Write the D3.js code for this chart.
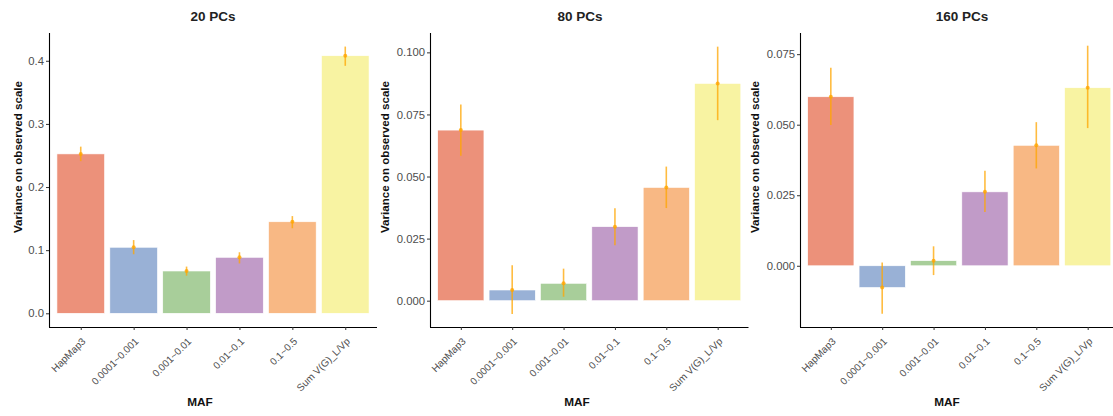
<!DOCTYPE html>
<html>
<head>
<meta charset="utf-8">
<script src="https://cdn.jsdelivr.net/npm/d3@7"></script>
<style>
  body { margin: 0; background: #fff; }
  svg { font-family: "Liberation Sans", Arial, sans-serif; }
</style>
</head>
<body>
<svg id="chart" width="1113" height="416"></svg>
<script>
// categories on the x axis (MAF bins)
var categories = ['HapMap3', '0.0001~0.001', '0.001~0.01', '0.01~0.1', '0.1~0.5', 'Sum V(G)_L/Vp'];
var barColors = ['#ec917a', '#99b1d6', '#a8ce9a', '#c19bc8', '#f8b884', '#f8f3a2'];

var titles = ['20 PCs', '80 PCs', '160 PCs'];

// estimates and error bar ends
var pc20 = [0.2525, 0.1046, 0.0670, 0.0887, 0.1450, 0.4080];
var pc20Lo = [0.2410, 0.0935, 0.0596, 0.0790, 0.1347, 0.3920];
var pc20Hi = [0.2640, 0.1160, 0.0740, 0.0967, 0.1540, 0.4225];

var pc80 = [0.0687, 0.0043, 0.0070, 0.0298, 0.0456, 0.0875];
var pc80Lo = [0.0584, -0.0054, 0.0016, 0.0223, 0.0373, 0.0727];
var pc80Hi = [0.0790, 0.0143, 0.0129, 0.0372, 0.0540, 0.1023];

var pc160 = [0.0599, -0.0077, 0.0018, 0.0262, 0.0427, 0.0631];
var pc160Lo = [0.0499, -0.0170, -0.0033, 0.0191, 0.0345, 0.0488];
var pc160Hi = [0.0702, 0.0012, 0.0069, 0.0337, 0.0509, 0.0780];

var ticks20 = [0, 0.1, 0.2, 0.3, 0.4];
var ticks80 = [0, 0.025, 0.05, 0.075, 0.1];
var ticks160 = [0, 0.025, 0.05, 0.075];

(function() {
  var svg = d3.select('#chart');

  //panel geometry
  var panels = [
    {title: titles[0], vals: pc20, lo: pc20Lo, hi: pc20Hi, ticks: ticks20, fmt: '.1f',
     left: 49, right: 377, dom: [-0.0217, 0.444], ylabX: 18, titleX: 213, mafX: 200},
    {title: titles[1], vals: pc80, lo: pc80Lo, hi: pc80Hi, ticks: ticks80, fmt: '.3f',
     left: 430, right: 748.5, dom: [-0.0106, 0.1078], ylabX: 385, titleX: 580, mafX: 577},
    {title: titles[2], vals: pc160, lo: pc160Lo, hi: pc160Hi, ticks: ticks160, fmt: '.3f',
     left: 800, right: 1118.5, dom: [-0.0217, 0.0825], ylabX: 755, titleX: 962, mafX: 947}
  ];
  var plotTop = 33, plotBottom = 327;

  panels.forEach(function(p) {
    var g = svg.append('g');
    var x = d3.scalePoint().domain(categories).range([p.left, p.right]).padding(0.6);
    var y = d3.scaleLinear().domain(p.dom).range([plotBottom, plotTop]);
    var bw = x.step() * 0.9;

    //bars
    g.selectAll('rect.bar').data(categories).enter().append('rect')
      .attr('class', 'bar')
      .attr('x', function(d) { return x(d) - bw / 2; })
      .attr('width', bw)
      .attr('y', function(d, i) { return Math.min(y(p.vals[i]), y(0)); })
      .attr('height', function(d, i) { return Math.abs(y(p.vals[i]) - y(0)); })
      .attr('fill', function(d, i) { return barColors[i]; })
      .attr('stroke', '#fff')
      .attr('stroke-width', 0.6);

    //error bars
    g.selectAll('line.err').data(categories).enter().append('line')
      .attr('class', 'err')
      .attr('x1', function(d) { return x(d); })
      .attr('x2', function(d) { return x(d); })
      .attr('y1', function(d, i) { return y(p.lo[i]); })
      .attr('y2', function(d, i) { return y(p.hi[i]); })
      .attr('stroke', 'orange')
      .attr('stroke-opacity', 0.75)
      .attr('stroke-width', 1.6);

    g.selectAll('circle.pt').data(categories).enter().append('circle')
      .attr('class', 'pt')
      .attr('cx', function(d) { return x(d); })
      .attr('cy', function(d, i) { return y(p.vals[i]); })
      .attr('r', 2)
      .attr('fill', 'orange')
      .attr('fill-opacity', 0.8);

    //y axis
    var yAxis = g.append('g')
      .attr('transform', 'translate(' + p.left + ',0)')
      .call(d3.axisLeft(y).tickValues(p.ticks).tickFormat(d3.format(p.fmt)).tickSize(3).tickSizeOuter(0));
    yAxis.select('.domain').attr('d', 'M0.5,' + plotTop + 'V' + plotBottom).attr('stroke', '#000').attr('stroke-width', 1.1);
    yAxis.selectAll('.tick line').attr('stroke', '#333');
    yAxis.selectAll('.tick text').attr('fill', '#4d4d4d').attr('font-size', 11.3).attr('x', -5);

    //x axis
    var xAxis = g.append('g')
      .attr('transform', 'translate(0,' + plotBottom + ')')
      .call(d3.axisBottom(x).tickSize(3).tickSizeOuter(0));
    xAxis.select('.domain').attr('d', 'M' + p.left + ',0.5H' + p.right).attr('stroke', '#000').attr('stroke-width', 1.1);
    xAxis.selectAll('.tick line').attr('stroke', '#333');
    xAxis.selectAll('.tick text')
      .attr('fill', '#4d4d4d')
      .attr('font-size', 10)
      .attr('y', 0).attr('dy', 0)
      .attr('text-anchor', 'end')
      .attr('transform', 'translate(5,15) rotate(-45)');

    //titles
    g.append('text')
      .attr('x', p.titleX).attr('y', 21)
      .attr('text-anchor', 'middle')
      .attr('font-weight', 'bold').attr('font-size', 13.5).attr('fill', '#222')
      .text(p.title);

    g.append('text')
      .attr('x', p.mafX).attr('y', 406)
      .attr('text-anchor', 'middle')
      .attr('font-weight', 'bold').attr('font-size', 11.8).attr('fill', '#111')
      .text('MAF');

    g.append('text')
      .attr('transform', 'translate(' + (p.ylabX + 4) + ',157) rotate(-90)')
      .attr('text-anchor', 'middle')
      .attr('font-weight', 'bold').attr('font-size', 11.6).attr('fill', '#111')
      .text('Variance on observed scale');
  });
})();
</script>
</body>
</html>
